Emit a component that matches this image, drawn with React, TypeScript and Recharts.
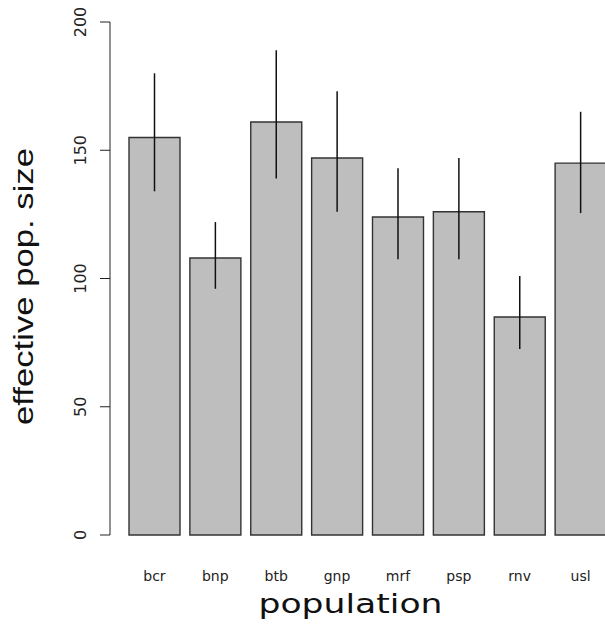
import { BarChart, Bar, XAxis, YAxis, ErrorBar, Label } from "recharts";

const populations = ["bcr", "bnp", "btb", "gnp", "mrf", "psp", "rnv", "usl"];
const effectiveSize = [155, 108, 161, 147, 124, 126, 85, 145];
const lowerCI = [134, 96, 139, 126, 107.5, 107.5, 72.5, 125.5];
const upperCI = [180, 122, 189, 173, 143, 147, 101, 165];
const yTicks = [0, 50, 100, 150, 200];

const data = populations.map((p, i) => ({
  population: p,
  size: effectiveSize[i],
  ci: [effectiveSize[i] - lowerCI[i], upperCI[i] - effectiveSize[i]],
}));

const RotatedTick = ({ x, y, payload }: any) => (
  <text
    x={x}
    y={y}
    transform={`rotate(-90 ${x} ${y})`}
    textAnchor="middle"
    fontFamily="DejaVu Sans"
    fontSize={16}
    fill="#222"
  >
    {payload.value}
  </text>
);

const YTitle = ({ viewBox }: any) => {
  const cx = viewBox.x + 33;
  const cy = viewBox.y + viewBox.height / 2 + 8;
  return (
    <text
      x={cx}
      y={cy}
      transform={`rotate(-90 ${cx} ${cy})`}
      textAnchor="middle"
      fontFamily="Liberation Sans"
      fontSize={27}
      fill="#111"
      textLength={277}
      lengthAdjust="spacingAndGlyphs"
    >
      effective pop. size
    </text>
  );
};

const XTitle = ({ viewBox }: any) => {
  const cx = viewBox.x + viewBox.width / 2 - 10;
  const cy = viewBox.y + 78;
  return (
    <text
      x={cx}
      y={cy}
      textAnchor="middle"
      fontFamily="DejaVu Sans"
      fontSize={26}
      fill="#111"
      textLength={184}
      lengthAdjust="spacingAndGlyphs"
    >
      population
    </text>
  );
};

export default function App() {
  return (
    <div
      style={{
        position: "absolute",
        left: 0,
        top: 0,
        width: 605,
        height: 628,
        overflow: "hidden",
        background: "#fff",
      }}
    >
      <BarChart
        width={620}
        height={628}
        data={data}
        margin={{ top: 22, right: 9, bottom: 0, left: 0 }}
      >
        <XAxis
          dataKey="population"
          axisLine={false}
          tickLine={false}
          tickMargin={30}
          height={93}
          padding={{ left: 14, right: 0 }}
          tick={{ fontSize: 14, fontFamily: "DejaVu Sans", fill: "#222" }}
          interval={0}
        >
          <Label content={<XTitle />} />
        </XAxis>
        <YAxis
          width={110}
          domain={[0, 200]}
          ticks={yTicks}
          tickSize={10}
          tickMargin={14}
          axisLine={{ stroke: "#222" }}
          tickLine={{ stroke: "#222" }}
          tick={<RotatedTick />}
        >
          <Label content={<YTitle />} />
        </YAxis>
        <Bar
          dataKey="size"
          barSize={51}
          fill="#bebebe"
          stroke="#333"
          strokeWidth={1.4}
          isAnimationActive={false}
        >
          <ErrorBar
            dataKey="ci"
            direction="y"
            width={0}
            stroke="#111"
            strokeWidth={1.5}
          />
        </Bar>
      </BarChart>
    </div>
  );
}
